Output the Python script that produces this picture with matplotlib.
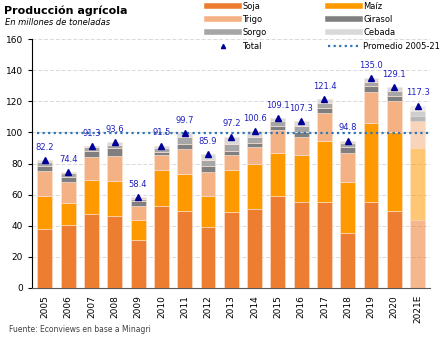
import matplotlib.pyplot as plt
import numpy as np
from matplotlib.lines import Line2D

# data (millones de toneladas)
years = ["2005", "2006", "2007", "2008", "2009", "2010", "2011", "2012", "2013",
         "2014", "2015", "2016", "2017", "2018", "2019", "2020", "2021E"]
soja = [38.1, 40.2, 47.3, 46.0, 30.8, 52.7, 49.2, 39.1, 48.6, 50.8, 58.9, 55.1, 55.1, 35.1, 55.1, 49.2, 43.9]
maiz = [20.8, 14.6, 21.9, 22.6, 13.1, 23.0, 23.9, 19.8, 27.1, 29.0, 27.6, 30.3, 39.4, 32.9, 51.1, 51.3, 45.8]
trigo = [16.1, 13.2, 15.3, 16.5, 8.6, 9.5, 16.1, 15.9, 9.5, 10.7, 15.0, 11.8, 18.2, 18.9, 19.8, 19.8, 17.6]
girasol = [3.7, 3.6, 3.5, 4.6, 3.2, 2.3, 3.6, 3.5, 2.8, 2.8, 2.6, 3.0, 3.2, 3.5, 3.8, 3.4, 3.5]
sorgo = [2.6, 2.0, 2.5, 2.5, 1.5, 2.8, 4.2, 4.0, 4.3, 3.5, 3.0, 3.8, 3.0, 2.8, 2.9, 2.9, 3.2]
cebada = [0.9, 0.8, 0.8, 1.4, 1.2, 1.2, 2.7, 3.6, 4.9, 3.8, 2.0, 3.3, 2.5, 1.6, 2.3, 2.5, 3.3]
total = [82.2, 74.4, 91.3, 93.6, 58.4, 91.5, 99.7, 85.9, 97.2, 100.6, 109.1, 107.3, 121.4, 94.8, 135.0, 129.1, 117.3]

series = [("Soja", soja, "#ED7D31"), ("Maíz", maiz, "#FF9900"), ("Trigo", trigo, "#F4B183"),
          ("Girasol", girasol, "#7F7F7F"), ("Sorgo", sorgo, "#A6A6A6"), ("Cebada", cebada, "#D9D9D9")]

promedio = np.mean(total)

fig = plt.figure(figsize=(4.43, 3.40), dpi=100)
ax = fig.add_axes([0.072, 0.153, 0.898, 0.732])

x = np.arange(len(years))
bottom = np.zeros(len(years))
for name, vals, col in series:
    vals = np.array(vals)
    alphas = [1.0] * (len(years) - 1) + [0.55]
    for i in range(len(years)):
        ax.bar(x[i], vals[i], bottom=bottom[i], width=0.64, color=col, alpha=alphas[i],
               edgecolor="#FCE4D6", linewidth=0.4, zorder=3)
    bottom += vals

ax.plot(x, total, linestyle="none", marker="^", markersize=5, color="#000099", zorder=5)
for xi, t in zip(x, total):
    ax.annotate(f"{t:.1f}", (xi, t), xytext=(0, 6), textcoords="offset points",
                ha="center", va="bottom", fontsize=6, color="#2020C0", zorder=6)

ax.plot([-0.35, 16.55], [promedio, promedio], linestyle=(0, (1, 1.5)), color="#2E75B6",
        linewidth=1.6, zorder=4)

ax.set_xlim(-0.56, 16.52)
ax.set_ylim(0, 160)
ax.set_yticks(range(0, 161, 20))
ax.yaxis.grid(True, linestyle=(0, (4, 2)), color="#D9D9D9", linewidth=0.7, zorder=0)
ax.set_xticks(x)
ax.set_xticklabels(years, rotation=90, fontsize=6.5)
ax.tick_params(axis="x", length=0, pad=5)
ax.tick_params(axis="y", labelsize=6.5, length=3, width=0.8, direction="out")
for s in ["top", "right"]:
    ax.spines[s].set_visible(False)
ax.spines["bottom"].set_color("#595959")
ax.spines["left"].set_color("black")

fig.text(0.01, 0.968, "Producción agrícola", fontsize=8, fontweight="bold", va="center")
fig.text(0.012, 0.935, "En millones de toneladas", fontsize=6, style="italic", va="center")
fig.text(0.02, 0.025, "Fuente: Econviews en base a Minagri", fontsize=5.5, color="#404040")

handles = [Line2D([], [], color=c, linewidth=4) for _, _, c in series]
labels = [n for n, _, _ in series]
handles.append(Line2D([], [], linestyle="none", marker="^", markersize=3, color="#000099"))
labels.append("Total")
handles.append(Line2D([], [], linestyle=(0, (1, 1.5)), color="#2E75B6", linewidth=1.6))
labels.append("Promedio 2005-21")
# row-wise ordering for 2 columns
h2 = handles[0::2] + handles[1::2]
l2 = labels[0::2] + labels[1::2]
fig.legend(h2, l2, ncol=2, loc="upper left", bbox_to_anchor=(0.468, 0.994), frameon=False,
           fontsize=6, handlelength=3.8, columnspacing=7.4, labelspacing=0.5,
           handletextpad=0.4, borderpad=0, borderaxespad=0)

plt.savefig("out.png", dpi=100)
